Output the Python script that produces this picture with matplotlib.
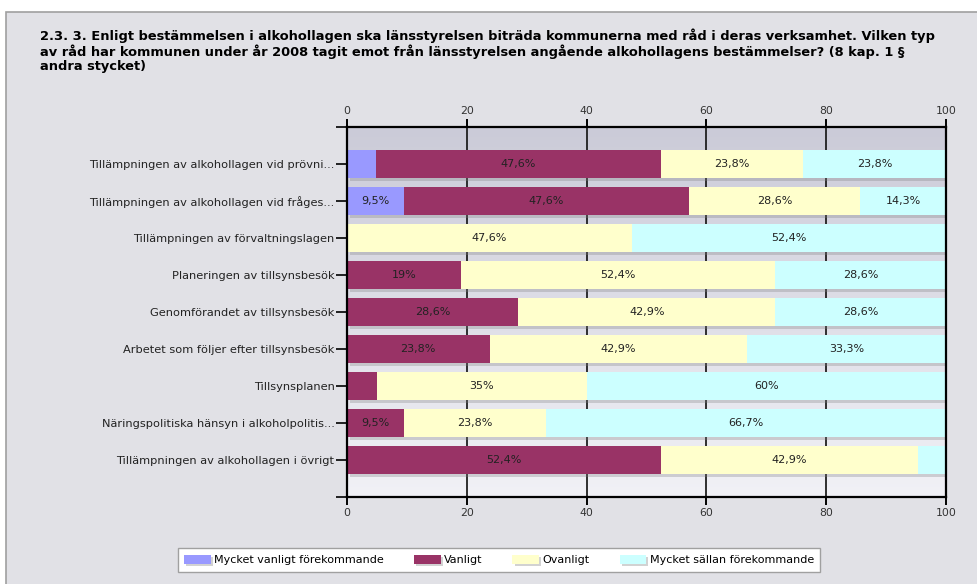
import numpy as np
import matplotlib
matplotlib.use('Agg')
import matplotlib.pyplot as plt
import matplotlib.patheffects as pe
from matplotlib.patches import Rectangle

title = ("2.3. 3. Enligt bestämmelsen i alkohollagen ska länsstyrelsen biträda kommunerna med råd i deras verksamhet. Vilken typ\n"
         "av råd har kommunen under år 2008 tagit emot från länsstyrelsen angående alkohollagens bestämmelser? (8 kap. 1 §\n"
         "andra stycket)")

categories = [
    "Tillämpningen av alkohollagen vid prövni...",
    "Tillämpningen av alkohollagen vid fråges...",
    "Tillämpningen av förvaltningslagen",
    "Planeringen av tillsynsbesök",
    "Genomförandet av tillsynsbesök",
    "Arbetet som följer efter tillsynsbesök",
    "Tillsynsplanen",
    "Näringspolitiska hänsyn i alkoholpolitis...",
    "Tillämpningen av alkohollagen i övrigt",
]
series_names = ["Mycket vanligt förekommande", "Vanligt", "Ovanligt", "Mycket sällan förekommande"]
mycket_vanligt = [4.8, 9.5, 0, 0, 0, 0, 0, 0, 0]
vanligt = [47.6, 47.6, 0, 19, 28.6, 23.8, 5, 9.5, 52.4]
ovanligt = [23.8, 28.6, 47.6, 52.4, 42.9, 42.9, 35, 23.8, 42.9]
mycket_sallan = [23.8, 14.3, 52.4, 28.6, 28.6, 33.3, 60, 66.7, 4.8]
colors = ["#9999ff", "#993366", "#ffffcc", "#ccffff"]
xticks = [0, 20, 40, 60, 80, 100]


def fmt(v):
    if abs(v - round(v)) < 1e-9:
        return "%d%%" % round(v)
    return ("%.1f%%" % v).replace(".", ",")


fig = plt.figure(figsize=(9.77, 5.84), dpi=100, facecolor='white')
# outer frame of the chart
fig.patches.append(Rectangle((6 / 977, -0.1), 1.0, 1 - 12 / 584 + 0.1, transform=fig.transFigure,
                             facecolor='#e1e1e6', edgecolor='#a0a0a0', lw=1.2, zorder=-10))
fig.text(40 / 977, 1 - 28 / 584, title, ha='left', va='top', fontsize=9.4, fontweight='bold',
         color='black', linespacing=1.15)

ax = fig.add_axes([347 / 977, 1 - 497 / 584, 599 / 977, 370 / 584])

# background gradient of plot area
grad = np.linspace(0, 1, 256).reshape(-1, 1)
ax.imshow(grad, extent=[0, 100, 9, -1], aspect='auto', zorder=-1,
          cmap=matplotlib.colors.LinearSegmentedColormap.from_list('bg', ['#cbcbd8', '#f1f1f6']),
          origin='upper')

y = np.arange(len(categories))
data = [mycket_vanligt, vanligt, ovanligt, mycket_sallan]
left = np.zeros(len(categories))
shadow = [pe.SimplePatchShadow(offset=(2, -2), shadow_rgbFace='#808080', alpha=0.3), pe.Normal()]
for name, vals, col in zip(series_names, data, colors):
    vals = np.array(vals, dtype=float)
    bars = ax.barh(y, vals, left=left, height=0.75, color=col, label=name, zorder=2)
    for b in bars:
        b.set_path_effects(shadow)
    for yi, l, v in zip(y, left, vals):
        if v > 6:
            ax.text(l + v / 2, yi, fmt(v), ha='center', va='center', fontsize=8,
                    color='#222222', zorder=3)
    left += vals

ax.set_xlim(0, 100)
ax.set_ylim(9, -1)
ax.set_xticks(xticks)
ax.set_yticks(y)
ax.set_yticklabels(categories)
ax.set_yticks([-1, 9], minor=True)
ax.grid(axis='x', color='#202020', lw=1.3, zorder=0.5)
ax.set_axisbelow(True)
ax.tick_params(axis='x', which='both', top=True, labeltop=True, direction='out', length=6, width=1.4,
               labelsize=7.8, pad=2, colors='black')
ax.tick_params(axis='x', labelcolor='#333333')
ax.tick_params(axis='y', which='both', direction='out', length=8, width=1.2, labelsize=8.2, pad=1,
               labelcolor='#222222')
for s in ax.spines.values():
    s.set_linewidth(1.6)
    s.set_color('black')

leg = fig.legend(loc='center', bbox_to_anchor=(499 / 977, 1 - 560 / 584), ncol=4, fontsize=8,
                 frameon=True, fancybox=False, edgecolor='#a0a0a0', facecolor='white', framealpha=1,
                 handlelength=2.4, handleheight=0.9, handletextpad=0.3, columnspacing=2.7,
                 borderpad=0.6)
leg.get_frame().set_linewidth(1.0)
for h in leg.legend_handles:
    h.set_path_effects([pe.SimplePatchShadow(offset=(1.5, -1.5), shadow_rgbFace='#808080', alpha=0.35), pe.Normal()])

fig.savefig('out.png', dpi=100, facecolor=fig.get_facecolor())
